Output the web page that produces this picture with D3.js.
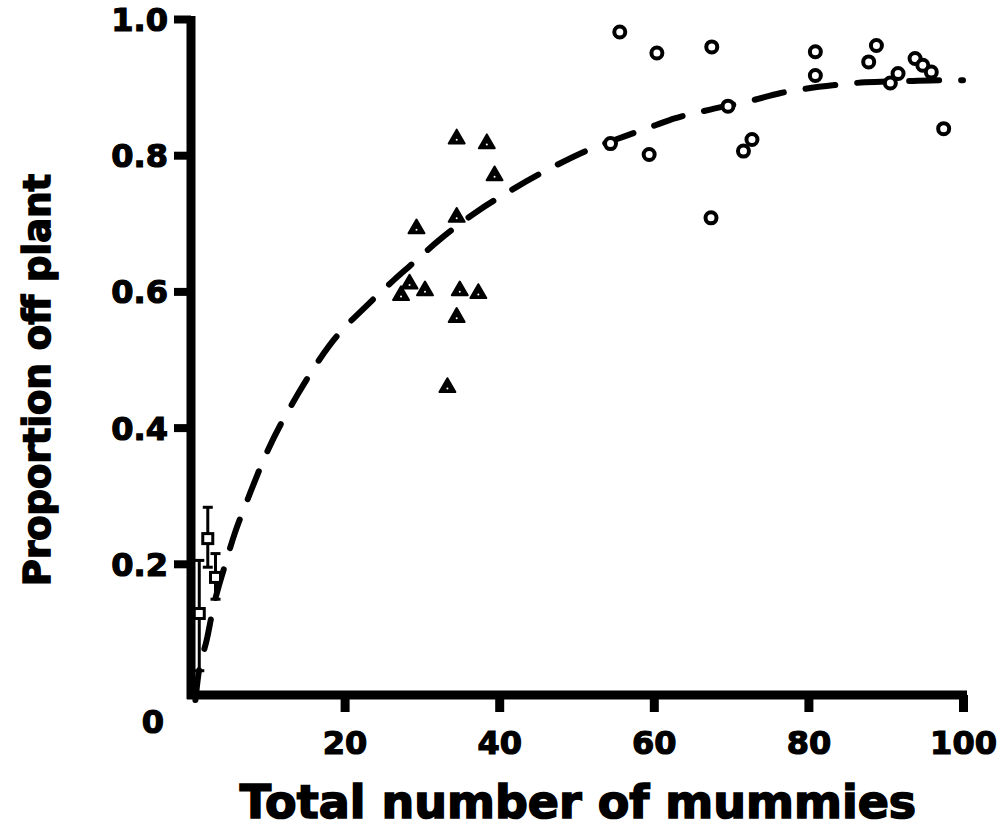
<!DOCTYPE html>
<html>
<head>
<meta charset="utf-8">
<script src="https://cdn.jsdelivr.net/npm/d3@7"></script>
<style>
  html, body { margin: 0; padding: 0; background: #fff; }
  svg { display: block; }
  text { font-family: "DejaVu Sans", sans-serif; font-weight: bold; fill: #000; }
</style>
</head>
<body>
<svg id="chart" width="1005" height="828"></svg>
<script>
// Tick values and labels
const xTickValues = [20, 40, 60, 80, 100];
const yTickValues = [0.2, 0.4, 0.6, 0.8, 1.0];
const yTickLabels = ["0.2", "0.4", "0.6", "0.8", "1.0"];

// Low-density plants: mean proportion with error bars
const squareX = [2.3, 3.3, 1.2];
const squareY = [0.237, 0.180, 0.127];
const squareLo = [0.195, 0.148, 0.043];
const squareHi = [0.283, 0.215, 0.205];

// Medium-density plants
const triangleX = [34.5, 38.4, 39.4, 34.5, 29.3, 28.4, 27.3, 30.4, 34.9, 37.3, 34.5, 33.3];
const triangleY = [0.824, 0.817, 0.770, 0.709, 0.692, 0.611, 0.594, 0.601, 0.601, 0.597, 0.562, 0.459];

// High-density plants
const circleX = [55.6, 60.4, 67.5, 69.6, 54.4, 59.4, 71.6, 72.7, 67.4,
                 80.9, 80.9, 88.8, 87.8, 91.6, 90.6, 93.8, 94.8, 95.9, 97.5];
const circleY = [0.981, 0.950, 0.959, 0.872, 0.817, 0.801, 0.806, 0.823, 0.708,
                 0.952, 0.917, 0.961, 0.937, 0.920, 0.906, 0.942, 0.932, 0.922, 0.839];

// Fitted saturating curve (dashed)
const curveX = [0.7, 1.0, 2.2, 3.0, 4.5, 5.8, 7.3, 10, 14, 18, 23.3, 26.5, 28.5, 32.3, 37.1,
                41.6, 47, 52, 56.3, 60.2, 62.7, 67.3, 72.9, 76.3, 79.3, 83.4, 87.3, 93.1, 97.5, 100];
const curveY = [0.0, 0.03, 0.09, 0.135, 0.197, 0.245, 0.29, 0.365, 0.45, 0.52, 0.584, 0.618, 0.638, 0.676, 0.717,
                0.749, 0.783, 0.81, 0.828, 0.844, 0.854, 0.867, 0.881, 0.891, 0.897, 0.903, 0.907, 0.909, 0.91, 0.91];

const svg = d3.select("#chart");
svg.append("rect").attr("width", 1005).attr("height", 828).attr("fill", "#fff");

const x = d3.scaleLinear().domain([0, 100]).range([190, 963]);
const y = d3.scaleLinear().domain([0, 1]).range([700, 19]);

const axisY0 = 695;   // baseline of the x axis
const axisX0 = 191;   // position of the y axis

// ---- Axes ----
const xAxis = d3.axisBottom(x).tickValues(xTickValues).tickFormat(d3.format("d"))
  .tickSize(17).tickSizeOuter(0).tickPadding(12);
const gx = svg.append("g").attr("transform", `translate(0,${axisY0})`).call(xAxis);
gx.select(".domain").remove();
gx.selectAll(".tick line").attr("stroke", "#000").attr("stroke-width", 9);
gx.selectAll(".tick text").attr("font-size", 32).attr("font-family", "DejaVu Sans")
  .attr("font-weight", "bold").attr("fill", "#000").attr("dy", "0.95em")
  .attr("stroke", "#000").attr("stroke-width", 1.2);

const yAxis = d3.axisLeft(y).tickValues(yTickValues).tickFormat((d, i) => yTickLabels[i])
  .tickSize(17).tickSizeOuter(0).tickPadding(6);
const gy = svg.append("g").attr("transform", `translate(${axisX0},0)`).call(yAxis);
gy.select(".domain").remove();
gy.selectAll(".tick line").attr("stroke", "#000").attr("stroke-width", 8);
gy.selectAll(".tick text").attr("font-size", 32).attr("font-family", "DejaVu Sans")
  .attr("font-weight", "bold").attr("fill", "#000").attr("dy", "0.36em")
  .attr("stroke", "#000").attr("stroke-width", 1.2);

// axis lines
svg.append("line").attr("x1", axisX0).attr("x2", axisX0)
  .attr("y1", y(1) - 3).attr("y2", axisY0 + 4)
  .attr("stroke", "#000").attr("stroke-width", 9);
svg.append("line").attr("x1", axisX0 - 4).attr("x2", x(100) + 4)
  .attr("y1", axisY0).attr("y2", axisY0)
  .attr("stroke", "#000").attr("stroke-width", 9);

// origin label
svg.append("text").attr("x", 153).attr("y", 733).attr("text-anchor", "middle")
  .attr("font-size", 32).attr("stroke", "#000").attr("stroke-width", 1.2).text("0");

// ---- Fitted curve ----
const curvePts = curveX.map((d, i) => [d, curveY[i]]);
svg.append("path")
  .datum(curvePts)
  .attr("d", d3.line().x(d => x(d[0])).y(d => y(d[1])).curve(d3.curveMonotoneX))
  .attr("fill", "none").attr("stroke", "#000").attr("stroke-width", 6)
  .attr("stroke-linecap", "round").attr("stroke-dasharray", "30,22");

// ---- Squares with error bars ----
const sq = squareX.map((d, i) => ({ x: d, y: squareY[i], lo: squareLo[i], hi: squareHi[i] }));
const gs = svg.append("g");
gs.selectAll("line.bar").data(sq).join("line").attr("class", "bar")
  .attr("x1", d => x(d.x)).attr("x2", d => x(d.x))
  .attr("y1", d => y(d.lo)).attr("y2", d => y(d.hi))
  .attr("stroke", "#000").attr("stroke-width", 3);
gs.selectAll("line.capHi").data(sq).join("line").attr("class", "capHi")
  .attr("x1", d => x(d.x) - 5).attr("x2", d => x(d.x) + 5)
  .attr("y1", d => y(d.hi)).attr("y2", d => y(d.hi))
  .attr("stroke", "#000").attr("stroke-width", 3);
gs.selectAll("line.capLo").data(sq).join("line").attr("class", "capLo")
  .attr("x1", d => x(d.x) - 5).attr("x2", d => x(d.x) + 5)
  .attr("y1", d => y(d.lo)).attr("y2", d => y(d.lo))
  .attr("stroke", "#000").attr("stroke-width", 3);
gs.selectAll("rect").data(sq).join("rect")
  .attr("x", d => x(d.x) - 5).attr("y", d => y(d.y) - 5)
  .attr("width", 10).attr("height", 10)
  .attr("fill", "#fff").attr("stroke", "#000").attr("stroke-width", 3);

// ---- Triangles ----
const tri = triangleX.map((d, i) => ({ x: d, y: triangleY[i] }));
const triSym = d3.symbol().type(d3.symbolTriangle).size(110);
const gt = svg.append("g");
gt.selectAll("path").data(tri).join("path")
  .attr("transform", d => `translate(${x(d.x)},${y(d.y)})`)
  .attr("d", triSym)
  .attr("fill", "#000").attr("stroke", "#000").attr("stroke-width", 2).attr("stroke-linejoin", "round");
gt.selectAll("circle").data(tri).join("circle")
  .attr("cx", d => x(d.x)).attr("cy", d => y(d.y) + 1).attr("r", 1)
  .attr("fill", "#fff");

// ---- Circles ----
const circ = circleX.map((d, i) => ({ x: d, y: circleY[i] }));
svg.append("g").selectAll("circle").data(circ).join("circle")
  .attr("cx", d => x(d.x)).attr("cy", d => y(d.y)).attr("r", 5.5)
  .attr("fill", "#fff").attr("stroke", "#000").attr("stroke-width", 4);

// ---- Axis titles ----
svg.append("text").attr("x", 578).attr("y", 818).attr("text-anchor", "middle")
  .attr("font-size", 46).attr("stroke", "#000").attr("stroke-width", 1.6)
  .text("Total number of mummies");
svg.append("text").attr("transform", "translate(50,380) rotate(-90)")
  .attr("text-anchor", "middle").attr("font-size", 37)
  .attr("stroke", "#000").attr("stroke-width", 1.5).text("Proportion off plant");
</script>
</body>
</html>
